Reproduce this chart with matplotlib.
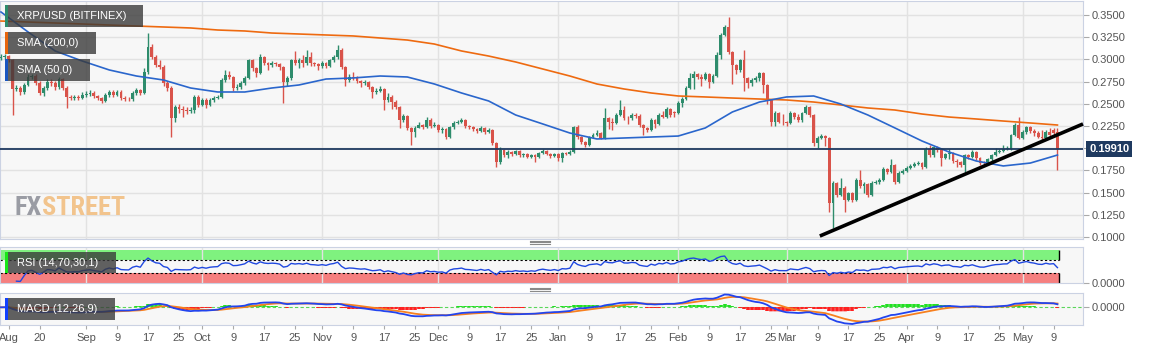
import matplotlib.pyplot as plt
import numpy as np
import pandas as pd
from matplotlib import font_manager
from matplotlib.patches import Rectangle
from matplotlib.lines import Line2D

plt.rcParams['font.family'] = ['Liberation Sans', 'DejaVu Sans']

# daily XRP/USD candles from 2018-08-10
start = pd.Timestamp('2018-08-10')

opens = [
    .3016, .3027, .3038, .2993, .2667, .2678, .2633, .2712, .2802, .2813,
    .2734, .2622, .2678, .2746, .2734, .2689, .2779, .2678, .2577, .2565,
    .2577, .2565, .2599, .2610, .2622, .2588, .2565, .2532, .2599, .2633,
    .2599, .2633, .2565, .2554, .2550, .2622, .2655, .2622, .2858, .3140,
    .3027, .2937, .2914, .2734, .2678, .2340, .2464, .2441, .2430, .2419,
    .2430, .2577, .2487, .2543, .2487, .2543, .2565, .2577, .2768, .2824,
    .2802, .2678, .2689, .2734, .2791, .2993, .2903, .2847, .3027, .2959,
    .2937, .2959, .2948, .2914, .2746, .2791, .2993, .2959, .2993, .2959,
    .3027, .2959, .2948, .2926, .2959, .2926, .2993, .3027, .3106, .2914,
    .2768, .2802, .2790, .2757, .2734, .2746, .2689, .2633, .2644, .2667,
    .2543, .2577, .2520, .2464, .2318, .2363, .2228, .2182, .2228, .2261,
    .2239, .2318, .2250, .2261, .2205, .2216, .2126, .2239, .2284, .2295,
    .2318, .2250, .2239, .2216, .2194, .2228, .2182, .2205, .2059, .1845,
    .1980, .1923, .1957, .1935, .1968, .1923, .1935, .1901, .1923, .1901,
    .1946, .1968, .1935, .1912, .1935, .1890, .1946, .1935, .1957, .2239,
    .2126, .2070, .2036, .2126, .2149, .2171, .2115, .2340, .2295, .2284,
    .2374, .2430, .2340, .2335, .2374, .2363, .2261, .2228, .2205, .2318,
    .2273, .2374, .2351, .2441, .2408, .2396, .2509, .2554, .2678, .2791,
    .2836, .2802, .2779, .2836, .2746, .2813, .3050, .3275, .3365, .3083,
    .2937, .2881, .2993, .2791, .2734, .2768, .2791, .2847, .2712, .2543,
    .2295, .2396, .2295, .2290, .2284, .2396, .2351, .2318, .2396, .2464,
    .2374, .2059, .2115, .2137, .2115, .1383, .1608, .1473, .1552, .1417,
    .1496, .1417, .1642, .1574, .1597, .1473, .1608, .1619, .1642, .1766,
    .1732, .1811, .1619, .1721, .1743, .1777, .1800, .1822, .1833, .1788,
    .1991, .1923, .2014, .1980, .1890, .1935, .1946, .1856, .1845, .1811,
    .1923, .1901, .1957, .1890, .1833, .1830, .1878, .1923, .1957, .1968,
    .1991, .1995, .2149, .2261, .2115, .2182, .2239, .2194, .2171, .2126,
    .2115, .2182, .2205, .2182,
]

closes = [
    .3027, .3038, .2993, .2667, .2678, .2633, .2712, .2802, .2813, .2734,
    .2622, .2678, .2746, .2734, .2689, .2779, .2678, .2577, .2565, .2577,
    .2565, .2599, .2610, .2622, .2588, .2565, .2532, .2599, .2633, .2599,
    .2633, .2565, .2554, .2550, .2622, .2655, .2622, .2858, .3140, .3027,
    .2937, .2914, .2734, .2678, .2340, .2464, .2441, .2430, .2419, .2430,
    .2577, .2487, .2543, .2487, .2543, .2565, .2577, .2768, .2824, .2802,
    .2678, .2689, .2734, .2791, .2993, .2903, .2847, .3027, .2959, .2937,
    .2959, .2948, .2914, .2746, .2791, .2993, .2959, .2993, .2959, .3027,
    .2959, .2948, .2926, .2959, .2926, .2993, .3027, .3106, .2914, .2768,
    .2802, .2790, .2757, .2734, .2746, .2689, .2633, .2644, .2667, .2543,
    .2577, .2520, .2464, .2318, .2363, .2228, .2182, .2228, .2261, .2239,
    .2318, .2250, .2261, .2205, .2216, .2126, .2239, .2284, .2295, .2318,
    .2250, .2239, .2216, .2194, .2228, .2182, .2205, .2059, .1845, .1980,
    .1923, .1957, .1935, .1968, .1923, .1935, .1901, .1923, .1901, .1946,
    .1968, .1935, .1912, .1935, .1890, .1946, .1935, .1957, .2239, .2126,
    .2070, .2036, .2126, .2149, .2171, .2115, .2340, .2295, .2284, .2374,
    .2430, .2340, .2335, .2374, .2363, .2261, .2228, .2205, .2318, .2273,
    .2374, .2351, .2441, .2374, .2396, .2509, .2554, .2678, .2791, .2836,
    .2802, .2779, .2836, .2746, .2813, .3050, .3275, .3365, .3083, .2937,
    .2881, .2993, .2791, .2734, .2768, .2791, .2847, .2712, .2543, .2295,
    .2396, .2295, .2290, .2284, .2396, .2351, .2318, .2396, .2464, .2374,
    .2059, .2115, .2137, .2115, .1383, .1608, .1473, .1552, .1417, .1496,
    .1417, .1642, .1574, .1597, .1473, .1608, .1619, .1642, .1766, .1732,
    .1811, .1619, .1721, .1743, .1777, .1800, .1822, .1833, .1788, .1991,
    .1923, .2014, .1980, .1890, .1935, .1946, .1856, .1845, .1811, .1923,
    .1901, .1957, .1890, .1833, .1830, .1878, .1923, .1957, .1968, .1991,
    .1995, .2149, .2261, .2115, .2182, .2239, .2194, .2171, .2126, .2115,
    .2182, .2149, .2171, .1991,
]

highs = [
    .3060, .3065, .3050, .3010, .2710, .2700, .2730, .2830, .2840, .2830,
    .2760, .2700, .2775, .2780, .2760, .2800, .2790, .2700, .2600, .2600,
    .2595, .2630, .2640, .2655, .2640, .2600, .2580, .2620, .2660, .2650,
    .2655, .2650, .2585, .2580, .2640, .2680, .2670, .2900, .3297, .3170,
    .3050, .2990, .2940, .2760, .2700, .2490, .2500, .2480, .2460, .2465,
    .2600, .2600, .2570, .2560, .2565, .2590, .2600, .2790, .2880, .2870,
    .2815, .2720, .2760, .2815, .3010, .3005, .2920, .3060, .3040, .2975,
    .2985, .2975, .2960, .2930, .2810, .3010, .3100, .3015, .3050, .3106,
    .3080, .2975, .2960, .2980, .2975, .3010, .3050, .3162, .3130, .2930,
    .2830, .2858, .2810, .2770, .2765, .2760, .2700, .2680, .2700, .2680,
    .2620, .2600, .2540, .2480, .2390, .2375, .2240, .2250, .2290, .2275,
    .2350, .2340, .2290, .2275, .2240, .2230, .2255, .2310, .2320, .2340,
    .2330, .2265, .2250, .2230, .2245, .2240, .2225, .2215, .2070, .2010,
    .1995, .1975, .1970, .1985, .1980, .1950, .1950, .1940, .1935, .1960,
    .1990, .1985, .1950, .1950, .1945, .1960, .1960, .1975, .2255, .2265,
    .2140, .2085, .2140, .2170, .2200, .2185, .2453, .2350, .2340, .2395,
    .2543, .2480, .2360, .2395, .2400, .2380, .2275, .2240, .2340, .2330,
    .2400, .2420, .2460, .2455, .2420, .2530, .2580, .2700, .2850, .2870,
    .2850, .2830, .2860, .2850, .2830, .3080, .3300, .3390, .3477, .3100,
    .2950, .3010, .3106, .2800, .2785, .2810, .2860, .2860, .2725, .2555,
    .2420, .2410, .2380, .2310, .2420, .2410, .2390, .2410, .2490, .2475,
    .2385, .2140, .2160, .2150, .2130, .1630, .1620, .1665, .1570, .1510,
    .1510, .1665, .1755, .1620, .1610, .1630, .1640, .1665, .1785, .1780,
    .1878, .1825, .1740, .1765, .1800, .1820, .1850, .1860, .1845, .2010,
    .2040, .2030, .2030, .1995, .1950, .1990, .1960, .1880, .1860, .1940,
    .1935, .1975, .1970, .1900, .1860, .1890, .1940, .2000, .1990, .2035,
    .2020, .2165, .2280, .2351, .2200, .2255, .2250, .2220, .2190, .2200,
    .2200, .2230, .2230, .2230,
]

lows = [
    .2990, .3005, .2970, .2374, .2640, .2600, .2610, .2700, .2780, .2715,
    .2600, .2590, .2660, .2700, .2650, .2670, .2650, .2453, .2540, .2545,
    .2540, .2550, .2580, .2590, .2565, .2540, .2505, .2520, .2580, .2580,
    .2585, .2545, .2530, .2530, .2535, .2600, .2600, .2610, .2840, .3000,
    .2910, .2890, .2700, .2640, .2126, .2300, .2400, .2350, .2390, .2395,
    .2400, .2460, .2470, .2450, .2475, .2525, .2550, .2560, .2750, .2775,
    .2640, .2650, .2670, .2715, .2775, .2870, .2800, .2830, .2935, .2880,
    .2920, .2930, .2880, .2509, .2700, .2770, .2940, .2900, .2920, .2940,
    .2930, .2925, .2880, .2905, .2900, .2910, .2975, .3005, .2890, .2700,
    .2740, .2770, .2730, .2690, .2715, .2665, .2570, .2610, .2630, .2430,
    .2520, .2440, .2440, .2228, .2300, .2200, .2036, .2130, .2230, .2215,
    .2225, .2230, .2235, .2180, .2170, .2100, .2110, .2220, .2270, .2280,
    .2230, .2220, .2195, .2175, .2180, .2165, .2170, .2040, .1788, .1820,
    .1900, .1890, .1915, .1920, .1900, .1905, .1885, .1885, .1840, .1890,
    .1930, .1920, .1895, .1900, .1860, .1840, .1920, .1925, .1945, .2105,
    .2050, .2010, .2020, .2110, .2135, .2100, .2100, .2220, .2200, .2270,
    .2360, .2320, .2270, .2320, .2340, .2240, .2150, .2180, .2190, .2230,
    .2260, .2335, .2340, .2355, .2350, .2380, .2460, .2540, .2665, .2670,
    .2780, .2700, .2765, .2680, .2730, .2800, .3000, .3260, .3060, .2720,
    .2840, .2860, .2640, .2680, .2700, .2750, .2760, .2620, .2500, .2250,
    .2250, .2280, .2260, .2250, .2270, .2330, .2300, .2300, .2380, .2355,
    .2030, .2000, .2100, .2030, .1282, .1101, .1450, .1460, .1282, .1400,
    .1395, .1400, .1555, .1500, .1450, .1460, .1595, .1600, .1630, .1710,
    .1720, .1600, .1605, .1705, .1730, .1765, .1785, .1810, .1770, .1775,
    .1905, .1900, .1960, .1800, .1875, .1880, .1835, .1790, .1790, .1732,
    .1880, .1885, .1870, .1810, .1815, .1815, .1860, .1910, .1945, .1955,
    .1975, .1980, .2135, .2100, .2100, .2165, .2175, .2140, .2110, .2090,
    .2100, .2130, .2150, .1755,
]

# moving averages as drawn on the chart, one reading per week
sma_step = 7
sma200 = [.3432, .3421, .3410, .3399, .3387, .3376, .3365, .3354, .3331, .3320,
          .3297, .3286, .3275, .3264, .3241, .3218, .3173, .3095, .3038, .2971,
          .2892, .2813, .2723, .2667, .2622, .2588, .2577, .2565, .2554, .2543,
          .2520, .2487, .2453, .2430, .2385, .2351, .2329, .2306, .2284, .2261]
sma50 = [.3534, .3309, .3095, .2982, .2881, .2813, .2768, .2678, .2633, .2633,
         .2678, .2712, .2779, .2791, .2813, .2802, .2723, .2622, .2532, .2374,
         .2273, .2171, .2104, .2115, .2126, .2137, .2228, .2408, .2520, .2577,
         .2588, .2498, .2374, .2228, .2081, .1957, .1856, .1800, .1833, .1923]

trend_days = [211.6, 279.6]
trend_prices = [0.1011, 0.2273]

tick_dates = ['2018-08-12', '2018-08-20', '2018-09-01', '2018-09-09', '2018-09-17',
              '2018-09-25', '2018-10-01', '2018-10-09', '2018-10-17', '2018-10-25',
              '2018-11-01', '2018-11-09', '2018-11-17', '2018-11-25', '2018-12-01',
              '2018-12-09', '2018-12-17', '2018-12-25', '2019-01-01', '2019-01-09',
              '2019-01-17', '2019-01-25', '2019-02-01', '2019-02-09', '2019-02-17',
              '2019-02-25', '2019-03-01', '2019-03-09', '2019-03-17', '2019-03-25',
              '2019-04-01', '2019-04-09', '2019-04-17', '2019-04-25', '2019-05-01',
              '2019-05-09']
tick_labels = ['Aug', '20', 'Sep', '9', '17', '25', 'Oct', '9', '17', '25',
               'Nov', '9', '17', '25', 'Dec', '9', '17', '25', 'Jan', '9',
               '17', '25', 'Feb', '9', '17', '25', 'Mar', '9', '17', '25',
               'Apr', '9', '17', '25', 'May', '9']
month_starts = ['2018-09-01', '2018-10-01', '2018-11-01', '2018-12-01', '2019-01-01',
                '2019-02-01', '2019-03-01', '2019-04-01', '2019-05-01']

GREEN = '#2e8c6c'
RED = '#d9534a'
NAVY = '#1f3a60'
BG = '#f7f7f7'
GRID = '#e2e2e2'
EDGE = '#cbd2e3'
TXT = '#555555'

W, H = 1153, 351

o = np.array(opens)
h = np.array(highs)
l = np.array(lows)
c = np.array(closes)
days = np.arange(len(c))
tick_days = [(pd.Timestamp(t) - start).days for t in tick_dates]
month_days = [(pd.Timestamp(t) - start).days for t in month_starts]
xlim = (-0.25, 279.6)

fig = plt.figure(figsize=(W / 100, H / 100), dpi=100)
fig.patch.set_facecolor('white')


def panel(top, bottom):
    a = fig.add_axes([0, 1 - bottom / H, 1083 / W, (bottom - top) / H])
    a.set_facecolor(BG)
    for s in a.spines.values():
        s.set_color(EDGE)
    a.set_xlim(*xlim)
    a.yaxis.tick_right()
    a.tick_params(axis='y', length=4, color='#aaaaaa', labelcolor=TXT, labelsize=8, pad=2)
    a.set_xticks(month_days, minor=True)
    a.grid(True, which='minor', axis='x', color=GRID, lw=1)
    a.set_xticks([])
    a.tick_params(axis='x', which='both', length=0)
    return a


# ---- price panel
ax = panel(1, 239)
price_ticks = np.arange(0.1, 0.3501, 0.025)
ax.set_yticks(price_ticks)
ax.set_yticklabels(['' if abs(t - 0.2) < 1e-6 else '%.4f' % t for t in price_ticks])
ax.grid(True, axis='y', color=GRID, lw=1)
ax.set_axisbelow(True)
ax.set_ylim(0.09775, 0.36577)

cols = np.where(c >= o, GREEN, RED)
ax.vlines(days, l, h, colors=cols, lw=1, zorder=3)
ax.bar(days, np.maximum(np.abs(c - o), 0.0007), bottom=np.minimum(o, c),
       width=0.74, color=cols, linewidth=0, zorder=4)

sma_days = np.arange(0, len(c), sma_step)
ax.plot(sma_days, sma200, color='#ee6a10', lw=1.2, zorder=5)
ax.plot(sma_days, sma50, color='#2a66cc', lw=1.2, zorder=5)
ax.axhline(c[-1], color=NAVY, lw=1.3, zorder=5)
ax.plot(trend_days, trend_prices, color='black', lw=2.6, zorder=6,
        solid_capstyle='butt', clip_on=False)

ax.text(1089 / 1083, c[-1], '%.5f' % c[-1], transform=ax.get_yaxis_transform(),
        ha='left', va='center', color='white', fontsize=8, fontweight='bold',
        bbox=dict(boxstyle='square,pad=0.25', fc=NAVY, ec='none'), zorder=10)

# ---- RSI panel
rsi_ax = panel(247, 283)
delta = np.diff(c)
gain = pd.Series(np.clip(delta, 0, None)).ewm(alpha=1 / 14, adjust=True).mean()
loss = pd.Series(np.clip(-delta, 0, None)).ewm(alpha=1 / 14, adjust=True).mean()
rsi = (100 - 100 / (1 + gain / loss)).to_numpy()
rsi_ax.set_ylim(0, 108)
band_x = [xlim[0], 273.4]
rsi_ax.fill_between(band_x, 70, 100, color='#7ff27f', lw=0, zorder=1)
rsi_ax.fill_between(band_x, 0, 30, color='#f57f7f', lw=0, zorder=1)
rsi_ax.plot(band_x, [70, 70], color='black', lw=0.8, ls=(0, (2, 2)), zorder=2)
rsi_ax.plot(band_x, [30, 30], color='black', lw=0.8, ls=(0, (2, 2)), zorder=2)
rsi_ax.vlines([273.4, 273.4], [0, 70], [30, 100], color='black', lw=1, zorder=2)
rsi_ax.plot(days[4:], rsi[3:], color='#2048e0', lw=1, zorder=3)
rsi_ax.set_yticks([0])
rsi_ax.set_yticklabels(['0.0000'])

# ---- MACD panel
macd_ax = panel(293, 325)
cs = pd.Series(c)
macd = (cs.ewm(span=12, adjust=False).mean() - cs.ewm(span=26, adjust=False).mean()).to_numpy()
signal = pd.Series(macd).ewm(span=9, adjust=False).mean().to_numpy()
hist = macd - signal
low_m = min(macd.min(), signal.min()) * 1.06
macd_ax.set_ylim(low_m, -low_m * 14.3 / 17.7)
macd_ax.axhline(0, color='#5ad65a', lw=0.8, ls=(0, (3, 2)), zorder=1)
macd_ax.vlines(days, 0, hist, colors=np.where(hist >= 0, '#22e022', '#ff2020'),
               lw=2.6, linestyles=(0, (1.2, 0.6)), zorder=2)
macd_ax.plot(days, signal, color='#f7801f', lw=1.3, zorder=3)
macd_ax.plot(days, macd, color='#2244ee', lw=1.3, zorder=4)
macd_ax.set_yticks([0])
macd_ax.set_yticklabels(['0.0000'])
macd_ax.set_xticks(tick_days)
macd_ax.set_xticklabels(tick_labels)
macd_ax.tick_params(axis='x', which='major', length=3, color='#aaaaaa', labelsize=8,
                    labelcolor=TXT, pad=3, labelbottom=True)


# ---- overlay labels
def label_box(x0, y0, x1, y1, bar, text):
    fig.add_artist(Rectangle((x0 / W, 1 - y1 / H), (x1 - x0) / W, (y1 - y0) / H,
                             transform=fig.transFigure, fc='#3a3a3a', alpha=0.8,
                             ec='none', zorder=20))
    fig.add_artist(Rectangle((x0 / W, 1 - y1 / H), 2.5 / W, (y1 - y0) / H,
                             transform=fig.transFigure, fc=bar, ec='none', zorder=21))
    fig.text((x0 + 12) / W, 1 - (y0 + y1) / 2 / H, text, color='white', fontsize=8,
             ha='left', va='center', zorder=22)


label_box(5, 5, 143, 27, GREEN, 'XRP/USD (BITFINEX)')
label_box(5, 32, 96, 54, '#e8650c', 'SMA (200,0)')
label_box(5, 59, 90, 81, '#1a56c0', 'SMA (50,0)')
label_box(5, 252, 116, 273, '#19e619', 'RSI (14,70,30,1)')
label_box(5, 298, 115, 320, '#1040ff', 'MACD (12,26,9)')

names = {f.name for f in font_manager.fontManager.ttflist}
narrow = next((n for n in ['Liberation Sans Narrow', 'Roboto Condensed', 'DejaVu Sans']
               if n in names), 'DejaVu Sans')
fig.text(15 / W, 1 - 215 / H, 'FX', color='#9a9ca4', fontsize=19, fontweight='bold',
         family=narrow, fontstretch='condensed', ha='left', va='baseline')
fig.text(42 / W, 1 - 215 / H, 'STREET', color='#f2c48d', fontsize=19, fontweight='bold',
         family=narrow, fontstretch='condensed', ha='left', va='baseline')

# panel grips
for gy in (242, 289):
    for dy in (-1.5, 0, 1.5):
        fig.add_artist(Line2D([530 / W, 550 / W], [1 - (gy + dy) / H] * 2,
                              transform=fig.transFigure, color='#8a8a8a', lw=0.8))

fig.savefig('out.png', dpi=100)
